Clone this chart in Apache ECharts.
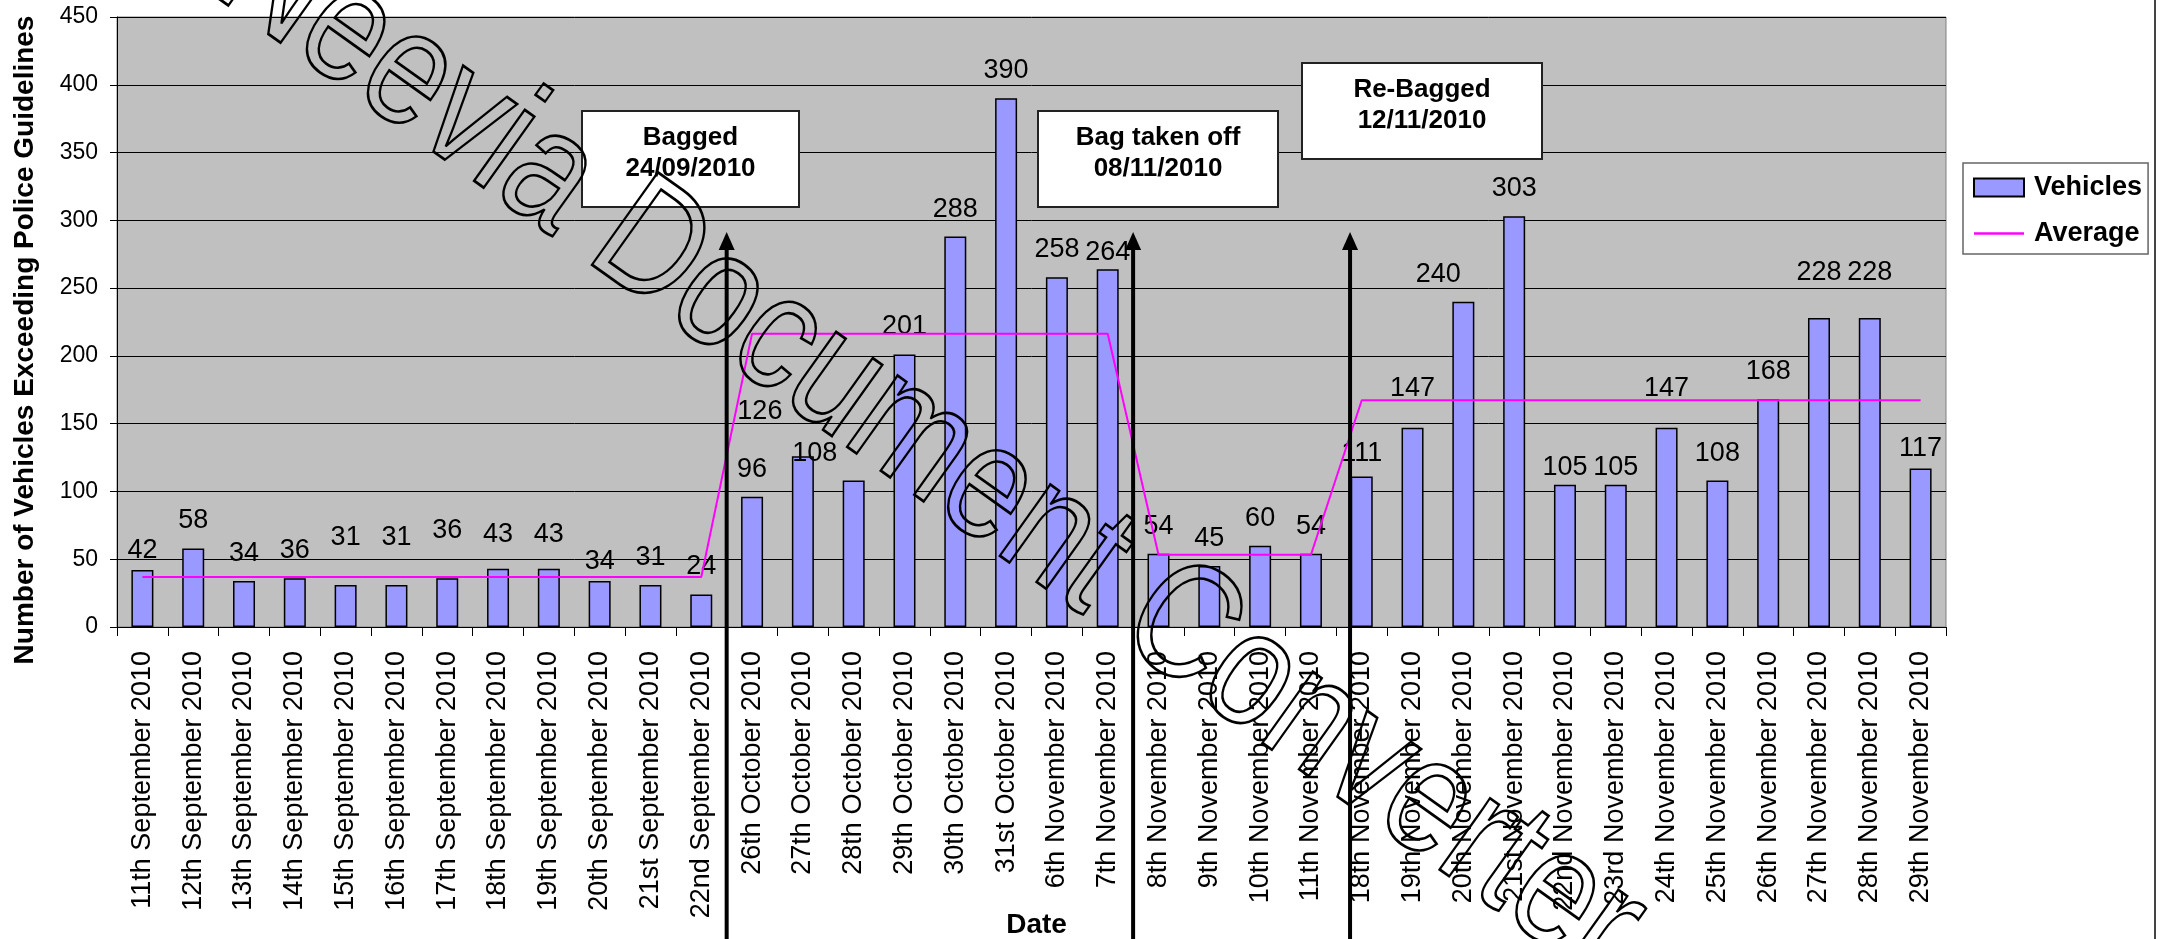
<!DOCTYPE html>
<html>
<head>
<meta charset="utf-8">
<script src="https://cdn.jsdelivr.net/npm/echarts@6/dist/echarts.min.js"></script>
<style>
html,body{margin:0;padding:0;background:#ffffff;}
#c{width:2163px;height:939px;}
</style>
</head>
<body>
<div id="c"></div>
<script>
// ---------------- data ----------------
const categories = [
  '11th September 2010','12th September 2010','13th September 2010','14th September 2010',
  '15th September 2010','16th September 2010','17th September 2010','18th September 2010',
  '19th September 2010','20th September 2010','21st September 2010','22nd September 2010',
  '26th October 2010','27th October 2010','28th October 2010','29th October 2010',
  '30th October 2010','31st October 2010','6th November 2010','7th November 2010',
  '8th November 2010','9th November 2010','10th November 2010','11th November 2010',
  '18th November 2010','19th November 2010','20th November 2010','21st November 2010',
  '22nd November 2010','23rd November 2010','24th November 2010','25th November 2010',
  '26th November 2010','27th November 2010','28th November 2010','29th November 2010'
];
const vehicles = [
  42, 58, 34, 36, 31, 31, 36, 43, 43, 34, 31, 24,
  96, 126, 108, 201, 288, 390, 258, 264,
  54, 45, 60, 54,
  111, 147, 240, 303, 105, 105, 147, 108, 168, 228, 228, 117
];
const average = [
  36.9, 36.9, 36.9, 36.9, 36.9, 36.9, 36.9, 36.9, 36.9, 36.9, 36.9, 36.9,
  216.4, 216.4, 216.4, 216.4, 216.4, 216.4, 216.4, 216.4,
  53.3, 53.3, 53.3, 53.3,
  167.3, 167.3, 167.3, 167.3, 167.3, 167.3, 167.3, 167.3, 167.3, 167.3, 167.3, 167.3
];
const seriesNames = ['Vehicles', 'Average'];
const yMin = 0, yMax = 450, yStep = 50;
const yTitle = 'Number of Vehicles Exceeding Police Guidelines';
const xTitle = 'Date';
const notes = [
  ['Bagged', '24/09/2010'],
  ['Bag taken off', '08/11/2010'],
  ['Re-Bagged', '12/11/2010']
];
const watermark = 'Neevia Document Converter';

// ---------------- styling ----------------
const FONT = "'Liberation Sans', Arial, Helvetica, sans-serif";
// manual label nudges (pixels) as in the original chart
const labelNudge = {
  0:[0,8], 4:[0,-20], 5:[0,-20], 6:[0,-20], 7:[0,-7], 8:[0,-7], 9:[0,8],
  13:[-43,-17], 14:[-39,0], 19:[0,11], 24:[0,5], 25:[0,-12], 26:[-25,0],
  28:[0,10], 29:[0,10], 30:[0,-12], 33:[0,-18], 34:[0,-18], 35:[0,8]
};

const barData = vehicles.map((v, i) =>
  labelNudge[i] ? { value: v, label: { offset: labelNudge[i] } } : v);

const chart = echarts.init(document.getElementById('c'), null, { renderer: 'canvas' });

const option = {
  animation: false,
  backgroundColor: '#ffffff',
  textStyle: { fontFamily: FONT },
  grid: {
    left: 117, top: 17, right: 217, bottom: 312,
    containLabel: false, outerBoundsMode: 'none',
    show: true, backgroundColor: '#C0C0C0', borderColor: '#808080', borderWidth: 1
  },
  legend: {
    orient: 'vertical', left: 1963, top: 163,
    padding: [11, 6, 7, 10], itemGap: 19,
    itemWidth: 50, itemHeight: 18,
    backgroundColor: '#ffffff', borderColor: '#666666', borderWidth: 1.5,
    textStyle: { fontFamily: FONT, fontSize: 27, fontWeight: 'bold', color: '#000', padding: [0, 0, 0, 5] },
    data: [
      { name: seriesNames[0], icon: 'rect' },
      { name: seriesNames[1], icon: 'path://M0,0h50v2.5h-50z' }
    ]
  },
  xAxis: {
    type: 'category', data: categories, boundaryGap: true,
    axisLine: { lineStyle: { color: '#000', width: 1 } },
    axisTick: { show: true, interval: 0, length: 9, lineStyle: { color: '#000' } },
    axisLabel: { interval: 0, rotate: 90, fontSize: 27, color: '#000', margin: 24, fontFamily: FONT }
  },
  yAxis: {
    type: 'value', min: yMin, max: yMax, interval: yStep,
    axisLine: { show: true, lineStyle: { color: '#000', width: 1 } },
    axisTick: { show: true, length: 7, lineStyle: { color: '#000' } },
    axisLabel: { fontSize: 23, color: '#000', margin: 19, fontFamily: FONT },
    splitLine: { show: true, lineStyle: { color: '#000', width: 1 } }
  },
  series: [
    {
      name: seriesNames[0], type: 'bar', data: barData, barWidth: 22, z: 2,
      itemStyle: { color: '#9999FF', borderColor: '#000', borderWidth: 1.5 },
      label: { show: true, position: 'top', distance: 14, fontSize: 27, color: '#000', fontFamily: FONT }
    },
    {
      name: seriesNames[1], type: 'line', data: average, symbol: 'none', showSymbol: false, z: 3,
      lineStyle: { color: '#FF00FF', width: 2 }, itemStyle: { color: '#FF00FF' }
    }
  ]
};
chart.setOption(option);

// ---------------- annotations ----------------
const px = i => chart.convertToPixel({ xAxisIndex: 0 }, i);
const between = (i, f) => px(i) + f * (px(i + 1) - px(i));
const arrowX = [between(11, 0.5), between(19, 0.5), between(23, 0.77)];
const boxes = [
  { x: 582, y: 111, w: 217, h: 96 },
  { x: 1038, y: 111, w: 240, h: 96 },
  { x: 1302, y: 63, w: 240, h: 96 }
];
const tipY = 232;
const graphics = [];

boxes.forEach((b, k) => {
  graphics.push({
    type: 'rect', z: 50,
    shape: { x: b.x, y: b.y, width: b.w, height: b.h },
    style: { fill: '#ffffff', stroke: '#222222', lineWidth: 2 }
  });
  notes[k].forEach((t, j) => {
    graphics.push({
      type: 'text', z: 51, x: b.x + b.w / 2, y: b.y + 27 + j * 31,
      style: { text: t, fill: '#000', font: 'bold 26px ' + FONT, textAlign: 'center', textVerticalAlign: 'middle' }
    });
  });
});

arrowX.forEach(x => {
  graphics.push({
    type: 'line', z: 52,
    shape: { x1: x, y1: tipY + 12, x2: x, y2: 939 },
    style: { stroke: '#000', lineWidth: 4 }
  });
  graphics.push({
    type: 'polygon', z: 52,
    shape: { points: [[x, tipY], [x - 8, tipY + 18], [x + 8, tipY + 18]] },
    style: { fill: '#000' }
  });
});

// axis titles
graphics.push({
  type: 'text', z: 10, x: 25, y: 340, rotation: Math.PI / 2,
  style: { text: yTitle, fill: '#000', font: 'bold 28px ' + FONT, textAlign: 'center', textVerticalAlign: 'middle' }
});
graphics.push({
  type: 'text', z: 10, x: (px(0) + px(categories.length - 1)) / 2 + 5, y: 925,
  style: { text: xTitle, fill: '#000', font: 'bold 28px ' + FONT, textAlign: 'center', textVerticalAlign: 'middle' }
});

// right border of the chart frame
graphics.push({
  type: 'line', z: 10,
  shape: { x1: 2155, y1: 0, x2: 2155, y2: 939 },
  style: { stroke: '#444444', lineWidth: 2 }
});

// converter watermark (outlined text)
graphics.push({
  type: 'text', z: 100, x: 930, y: 450, rotation: -35.5 * Math.PI / 180,
  scaleX: 0.9, scaleY: 1.1,
  silent: true,
  style: {
    text: watermark, font: '150px ' + FONT, fill: 'rgba(0,0,0,0)',
    stroke: '#000', lineWidth: 2.5, textAlign: 'center', textVerticalAlign: 'middle'
  }
});

chart.setOption({ graphic: graphics });
</script>
</body>
</html>
